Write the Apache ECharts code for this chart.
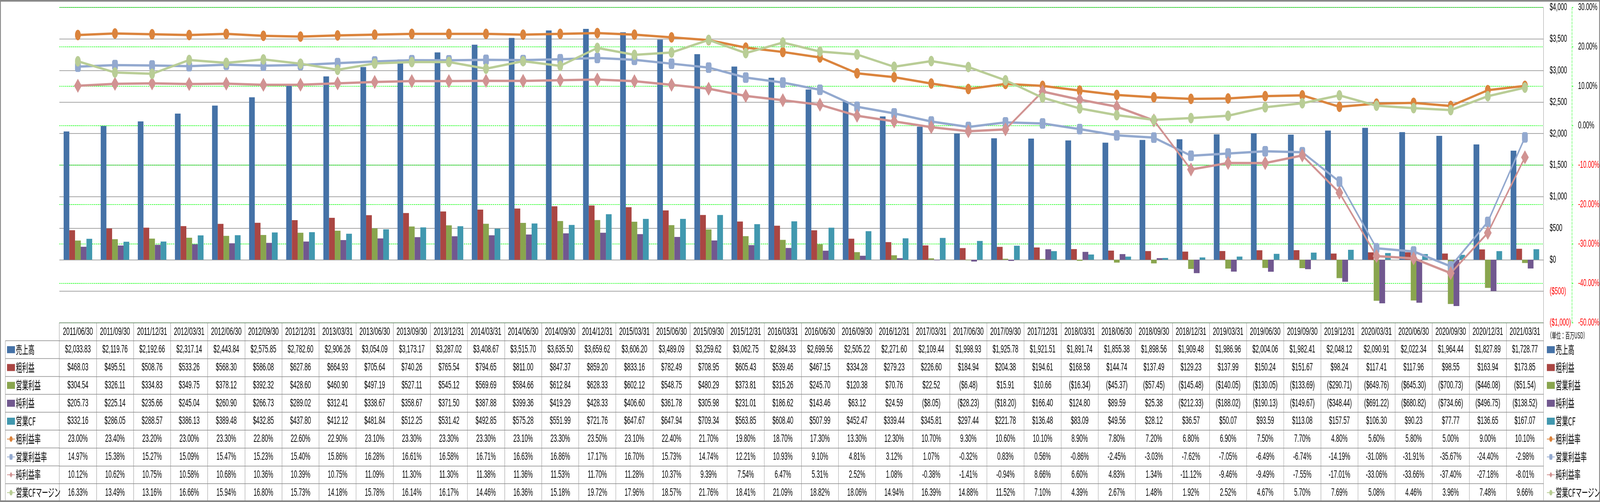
<!DOCTYPE html>
<html>
<head>
<meta charset="utf-8">
<script src="https://cdn.jsdelivr.net/npm/echarts@6/dist/echarts.min.js"></script>
<style>
html,body{margin:0;padding:0;background:#fff;overflow:hidden;}
#wrap{width:7472px;height:1286px;transform-origin:0 0;}
#chart{width:7472px;height:1286px;}
</style>
</head>
<body>
<div id="wrap"><div id="chart"></div></div>
<script>
const categories = ['2011/06/30','2011/09/30','2011/12/31','2012/03/31','2012/06/30','2012/09/30','2012/12/31','2013/03/31','2013/06/30','2013/09/30','2013/12/31','2014/03/31','2014/06/30','2014/09/30','2014/12/31','2015/03/31','2015/06/30','2015/09/30','2015/12/31','2016/03/31','2016/06/30','2016/09/30','2016/12/31','2017/03/31','2017/06/30','2017/09/30','2017/12/31','2018/03/31','2018/06/30','2018/09/30','2018/12/31','2019/03/31','2019/06/30','2019/09/30','2019/12/31','2020/03/31','2020/06/30','2020/09/30','2020/12/31','2021/03/31'];

const revenue = [2033.83,2119.76,2192.66,2317.14,2443.84,2575.85,2782.60,2906.26,3054.09,3173.17,3287.02,3408.67,3515.70,3635.50,3659.62,3606.20,3489.09,3259.62,3062.75,2884.33,2699.56,2505.22,2271.60,2109.44,1998.93,1925.78,1921.51,1891.74,1855.38,1898.56,1909.48,1986.96,2004.06,1982.41,2048.12,2090.91,2022.34,1964.44,1827.89,1728.77];
const grossProfit = [468.03,495.51,508.76,533.26,568.30,586.08,627.86,664.93,705.64,740.26,765.54,794.65,811.00,847.37,859.20,833.16,782.49,708.95,605.43,539.46,467.15,334.28,279.23,226.60,184.94,204.38,194.61,168.58,144.74,137.49,129.23,137.99,150.24,151.67,98.24,117.41,117.96,98.55,163.94,173.85];
const operatingIncome = [304.54,326.11,334.83,349.75,378.12,392.32,428.60,460.90,497.19,527.11,545.12,569.69,584.66,612.84,628.33,602.12,548.75,480.29,373.81,315.26,245.70,120.38,70.76,22.52,-6.48,15.91,10.66,-16.34,-45.37,-57.45,-145.48,-140.05,-130.05,-133.69,-290.71,-649.76,-645.30,-700.73,-446.08,-51.54];
const netIncome = [205.73,225.14,235.66,245.04,260.90,266.73,289.02,312.41,338.67,358.67,371.50,387.88,399.36,419.29,428.33,406.60,361.78,305.98,231.01,186.62,143.46,63.12,24.59,-8.05,-28.23,-18.20,166.40,124.80,89.59,25.38,-212.33,-188.02,-190.13,-149.67,-348.44,-691.22,-680.82,-734.66,-496.75,-138.52];
const operatingCF = [332.16,286.05,288.57,386.13,389.48,432.85,437.80,412.12,481.84,512.25,531.42,492.85,575.28,551.99,721.76,647.67,647.94,709.34,563.85,608.40,507.99,452.47,339.44,345.81,297.44,221.78,136.48,83.09,49.56,28.12,36.57,50.07,93.59,113.08,157.57,106.30,90.23,77.77,136.65,167.07];
const grossMargin = [23.00,23.40,23.20,23.00,23.30,22.80,22.60,22.90,23.10,23.30,23.30,23.30,23.10,23.30,23.50,23.10,22.40,21.70,19.80,18.70,17.30,13.30,12.30,10.70,9.30,10.60,10.10,8.90,7.80,7.20,6.80,6.90,7.50,7.70,4.80,5.60,5.80,5.00,9.00,10.10];
const operatingMargin = [14.97,15.38,15.27,15.09,15.47,15.23,15.40,15.86,16.28,16.61,16.58,16.71,16.63,16.86,17.17,16.70,15.73,14.74,12.21,10.93,9.10,4.81,3.12,1.07,-0.32,0.83,0.56,-0.86,-2.45,-3.03,-7.62,-7.05,-6.49,-6.74,-14.19,-31.08,-31.91,-35.67,-24.40,-2.98];
const netMargin = [10.12,10.62,10.75,10.58,10.68,10.36,10.39,10.75,11.09,11.30,11.30,11.38,11.36,11.53,11.70,11.28,10.37,9.39,7.54,6.47,5.31,2.52,1.08,-0.38,-1.41,-0.94,8.66,6.60,4.83,1.34,-11.12,-9.46,-9.49,-7.55,-17.01,-33.06,-33.66,-37.40,-27.18,-8.01];
const ocfMargin = [16.33,13.49,13.16,16.66,15.94,16.80,15.73,14.18,15.78,16.14,16.17,14.46,16.36,15.18,19.72,17.96,18.57,21.76,18.41,21.09,18.82,18.06,14.94,16.39,14.88,11.52,7.10,4.39,2.67,1.48,1.92,2.52,4.67,5.70,7.69,5.08,4.46,3.96,7.48,9.66];

const usdTicks = {min:-1000, max:4000, interval:500};
const pctTicks = {min:-50, max:30, interval:10};

const barSeriesDefs = [
  {name:'売上高', data:revenue, color:'#4572A7'},
  {name:'粗利益', data:grossProfit, color:'#AA4643'},
  {name:'営業利益', data:operatingIncome, color:'#89A54E'},
  {name:'純利益', data:netIncome, color:'#71588F'},
  {name:'営業CF', data:operatingCF, color:'#4198AF'}
];
const lineSeriesDefs = [
  {name:'粗利益率', data:grossMargin, color:'#DB843D', symbol:'circle', size:27},
  {name:'営業利益率', data:operatingMargin, color:'#93A9CF', symbol:'roundRect', size:27},
  {name:'純利益率', data:netMargin, color:'#D19392', symbol:'diamond', size:36},
  {name:'営業CFマージン', data:ocfMargin, color:'#B9CD96', symbol:'circle', size:27}
];

function fmtUSD(v){
  const s = Math.abs(v).toLocaleString('en-US',{minimumFractionDigits:2, maximumFractionDigits:2});
  return v < 0 ? '($' + s + ')' : '$' + s;
}
function fmtPct(v){ return v.toFixed(2) + '%'; }
function fmtAxisUSD(v){
  v = Number(v);
  const s = Math.abs(v).toLocaleString('en-US');
  return v < 0 ? '($' + s + ')' : '$' + s;
}

const tableRows = [
  revenue.map(fmtUSD), grossProfit.map(fmtUSD), operatingIncome.map(fmtUSD),
  netIncome.map(fmtUSD), operatingCF.map(fmtUSD),
  grossMargin.map(fmtPct), operatingMargin.map(fmtPct), netMargin.map(fmtPct), ocfMargin.map(fmtPct)
];

const W = 7472, H = 1286;
// fit the 7472px-wide design into the actual viewport width
const sx = Math.min(1, (window.innerWidth || W) / W);
document.getElementById('wrap').style.transform = 'scale(' + sx + ',1)';

const GL = 277, GR = 264, GT = 19, GB = 459;
const ROW = 45.8;
const TABLE_TOP = H - GB;
const LABEL_COL_LEFT = 25;
const GRAY = '#888888';
const NUMFONT = 'Liberation Sans';
const JPFONT = 'Noto Sans CJK JP';

const xAxes = [];
xAxes.push({
  type:'category', data:categories, position:'bottom', offset:0,
  axisLine:{show:true, onZero:false, lineStyle:{color:GRAY, width:1.5}},
  axisTick:{show:true, length:ROW, interval:0, lineStyle:{color:GRAY, width:1.5}},
  axisLabel:{interval:0, margin:0, lineHeight:ROW, fontSize:28.5, fontFamily:NUMFONT, color:'#000'},
  splitLine:{show:false}
});
tableRows.forEach((row, k) => {
  xAxes.push({
    type:'category', data:categories, position:'bottom', offset:ROW*(k+1),
    axisLine:{show:true, onZero:false, lineStyle:{color:GRAY, width:1.5}},
    axisTick:{show:true, length:ROW, interval:0, lineStyle:{color:GRAY, width:1.5}},
    axisLabel:{interval:0, margin:0, lineHeight:ROW, fontSize:27, fontFamily:NUMFONT, color:'#000',
      formatter:(v, i) => row[i]},
    splitLine:{show:false}
  });
});
xAxes.push({
  type:'category', data:categories, position:'bottom', offset:ROW*10,
  axisLine:{show:true, onZero:false, lineStyle:{color:GRAY, width:1.5}},
  axisTick:{show:false}, axisLabel:{show:false}, splitLine:{show:false}
});

const series = [];
barSeriesDefs.forEach(d => series.push({
  name:d.name, type:'bar', data:d.data, xAxisIndex:0, yAxisIndex:0,
  itemStyle:{color:d.color}, barGap:'0%', barCategoryGap:'23%'
}));
lineSeriesDefs.forEach(d => series.push({
  name:d.name, type:'line', data:d.data, xAxisIndex:0, yAxisIndex:1,
  symbol:d.symbol, symbolSize:d.size,
  lineStyle:{color:d.color, width:6}, itemStyle:{color:d.color, opacity:1},
  z:3
}));

const legendData = barSeriesDefs.map(d => ({name:d.name, icon:'rect'}))
  .concat(lineSeriesDefs.map(d => ({name:d.name})));

const legendCommon = {
  orient:'vertical', top: TABLE_TOP + ROW + ROW/2 - 15, padding:0,
  itemWidth:37, itemHeight:18, itemGap: ROW - 30,
  selectedMode:false,
  textStyle:{fontSize:29, fontFamily:JPFONT, color:'#000', lineHeight:30, padding:[0,0,0,-1]},
  data:legendData
};

const graphics = [];
for (let k = 1; k <= 10; k++) {
  const y = TABLE_TOP + ROW*k;
  graphics.push({type:'line', silent:true, shape:{x1:LABEL_COL_LEFT, y1:y, x2:GL, y2:y},
    style:{stroke:GRAY, lineWidth:1.5}});
}
graphics.push({type:'line', silent:true,
  shape:{x1:LABEL_COL_LEFT, y1:TABLE_TOP+ROW, x2:LABEL_COL_LEFT, y2:TABLE_TOP+ROW*10},
  style:{stroke:GRAY, lineWidth:1.5}});
graphics.push({type:'rect', silent:true, z:100,
  shape:{x:1.5, y:1.5, width:W-3, height:H-3},
  style:{fill:'none', stroke:GRAY, lineWidth:3 / Math.max(sx, 0.5)}});

const option = {
  animation:false,
  backgroundColor:'#ffffff',
  title:{text:'（単位：百万USD）', left:7226, top:TABLE_TOP+22, padding:0,
    textStyle:{fontSize:21, fontWeight:'normal', fontFamily:JPFONT, color:'#000'}},
  grid:{left:GL, right:GR, top:GT, bottom:GB, containLabel:false, outerBoundsMode:'none'},
  legend:[
    Object.assign({left:LABEL_COL_LEFT+7}, legendCommon),
    Object.assign({left:7223}, legendCommon)
  ],
  xAxis:xAxes,
  yAxis:[
    {type:'value', position:'right', min:usdTicks.min, max:usdTicks.max, interval:usdTicks.interval,
      axisLine:{show:true, lineStyle:{color:GRAY, width:1.5}},
      axisTick:{show:false},
      axisLabel:{margin:29, fontSize:26.5, fontFamily:NUMFONT, formatter:fmtAxisUSD,
        color:(v) => Number(v) < 0 ? '#ff0000' : '#000'},
      splitLine:{show:true, lineStyle:{color:GRAY, width:1.5}}},
    {type:'value', position:'right', offset:133, min:pctTicks.min, max:pctTicks.max, interval:pctTicks.interval,
      axisLine:{show:true, lineStyle:{color:'#00ff00', type:'dashed', width:1.5}},
      axisTick:{show:true, length:9, lineStyle:{color:'#00ff00', type:'dashed', width:1.5}},
      axisLabel:{margin:29, fontSize:26.5, fontFamily:NUMFONT,
        formatter:(v) => Number(v).toFixed(2) + '%',
        color:(v) => Number(v) < 0 ? '#ff0000' : '#000'},
      splitLine:{show:true, lineStyle:{color:'#00ff00', type:'dashed', width:1.5}}}
  ],
  graphic:graphics,
  series:series
};

const chart = echarts.init(document.getElementById('chart'), null, {renderer:'canvas'});
chart.setOption(option);
</script>
</body>
</html>
